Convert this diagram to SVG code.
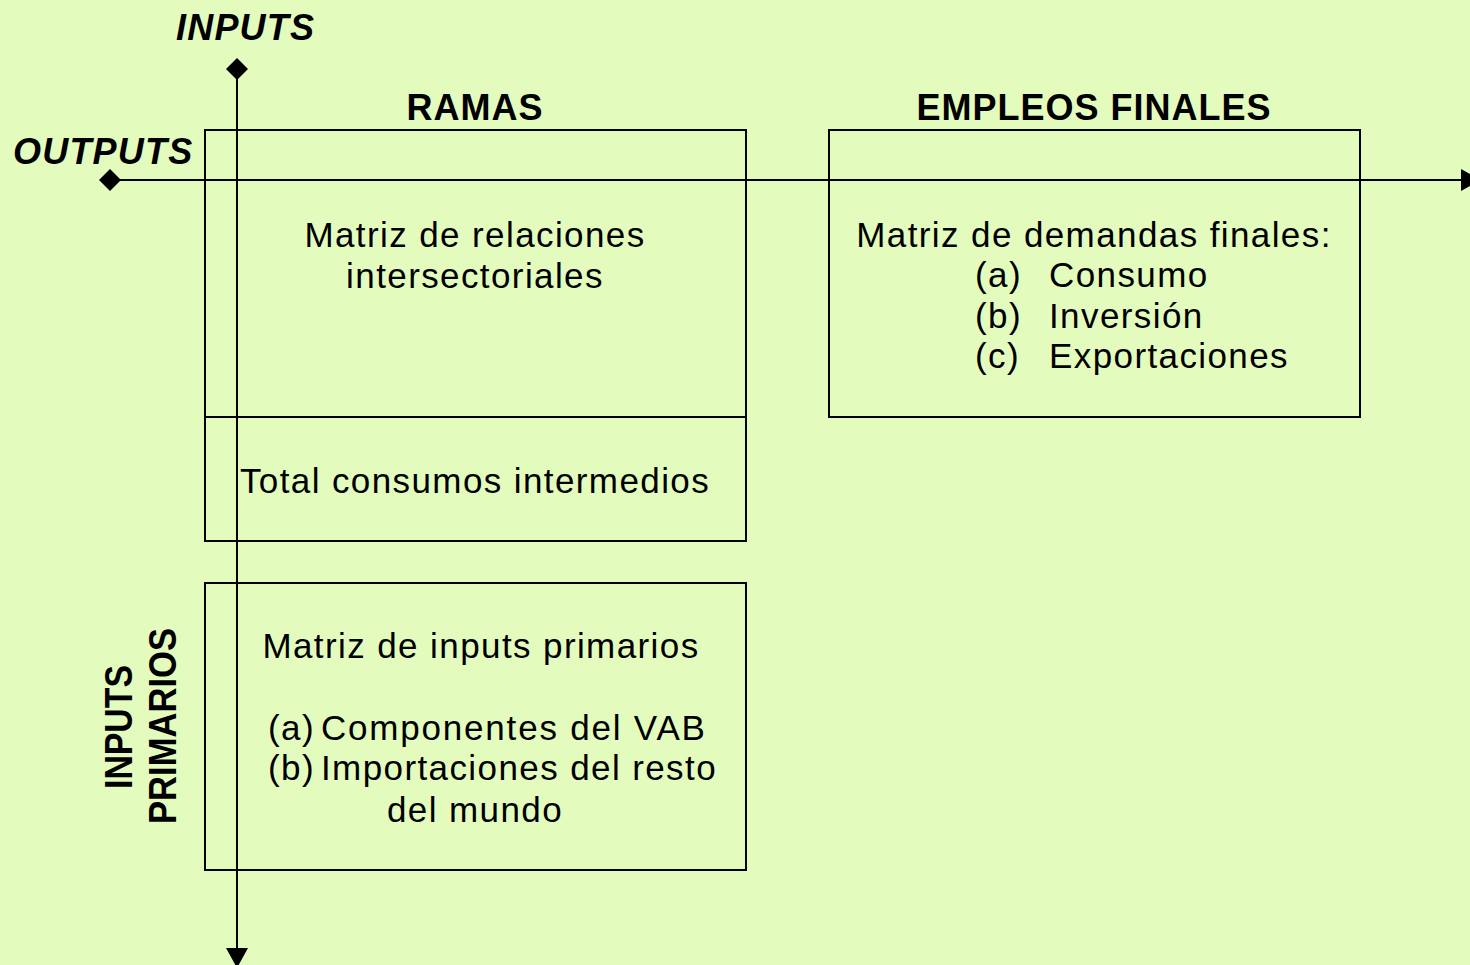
<svg xmlns="http://www.w3.org/2000/svg" width="1470" height="965" viewBox="0 0 1470 965">
<style>
.box{fill:none;stroke:#000;stroke-width:2}
.ln{stroke:#000;stroke-width:2;fill:none}
.t{font-family:"Liberation Sans",Arial,sans-serif;font-size:35px;letter-spacing:1.4px;fill:#000}
.h{font-family:"Liberation Sans",Arial,sans-serif;font-size:36px;font-weight:bold;letter-spacing:1px;fill:#000}
.v{font-family:"Liberation Sans",Arial,sans-serif;font-size:38px;font-weight:bold;fill:#000}
.hi{font-family:"Liberation Sans",Arial,sans-serif;font-size:36px;font-weight:bold;font-style:italic;letter-spacing:1.2px;fill:#000}
</style>
<rect x="0" y="0" width="1470" height="965" fill="#E3FCBD"/>
<g id="labels">
<text class="hi" x="176" y="40">INPUTS</text>
<text class="hi" x="13" y="164">OUTPUTS</text>
<text class="h" x="475" y="120" text-anchor="middle">RAMAS</text>
<text class="h" x="1094" y="120" text-anchor="middle">EMPLEOS FINALES</text>
<text class="v" transform="translate(132,727) rotate(-90) scale(0.89,1)" text-anchor="middle">INPUTS</text>
<text class="v" transform="translate(176,726) rotate(-90) scale(0.91,1)" text-anchor="middle">PRIMARIOS</text>
</g>
<g id="node-intersectorial">
<rect class="box" x="205" y="130" width="541" height="287"/>
<text class="t" x="475" y="247" text-anchor="middle">Matriz de relaciones</text>
<text class="t" x="475" y="288" text-anchor="middle">intersectoriales</text>
</g>
<g id="node-total">
<rect class="box" x="205" y="417" width="541" height="124"/>
<text class="t" x="475" y="493" text-anchor="middle">Total consumos intermedios</text>
</g>
<g id="node-primarios">
<rect class="box" x="205" y="583" width="541" height="287"/>
<text class="t" x="481" y="658" text-anchor="middle">Matriz de inputs primarios</text>
<text class="t" x="268" y="740">(a)</text>
<text class="t" x="321" y="740" style="letter-spacing:1.8px">Componentes del VAB</text>
<text class="t" x="268" y="780">(b)</text>
<text class="t" x="321" y="780">Importaciones del resto</text>
<text class="t" x="475" y="822" text-anchor="middle">del mundo</text>
</g>
<g id="node-demandas">
<rect class="box" x="829" y="130" width="531" height="287"/>
<text class="t" x="1094" y="247" text-anchor="middle">Matriz de demandas finales:</text>
<text class="t" x="975" y="287">(a)</text>
<text class="t" x="1049" y="287">Consumo</text>
<text class="t" x="975" y="328">(b)</text>
<text class="t" x="1049" y="328">Inversión</text>
<text class="t" x="975" y="368">(c)</text>
<text class="t" x="1049" y="368">Exportaciones</text>
</g>
<g id="connectors">
<line class="ln" x1="237" y1="69" x2="237" y2="950"/>
<polygon points="226,69 237,58 248,69 237,80" fill="#000"/>
<polygon points="226,948 248,948 237,968" fill="#000"/>
<line class="ln" x1="110" y1="180" x2="1462" y2="180"/>
<polygon points="99,180 110,169 121,180 110,191" fill="#000"/>
<polygon points="1461,169 1461,191 1481,180" fill="#000"/>
</g>
</svg>
